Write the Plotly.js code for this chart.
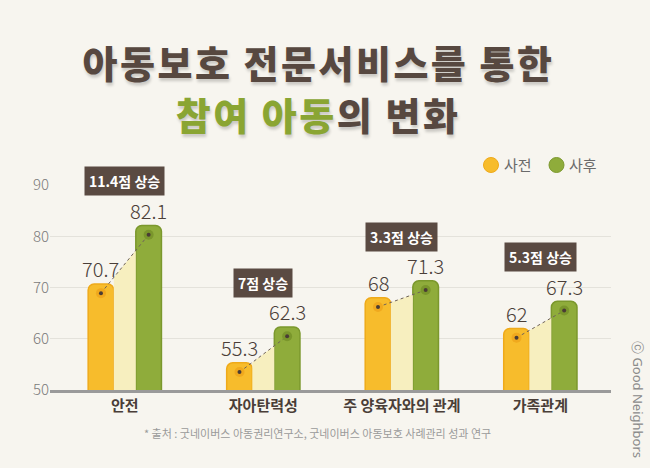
<!DOCTYPE html>
<html><head><meta charset="utf-8">
<script src="https://cdn.plot.ly/plotly-3.0.1.min.js"></script>
<style>html,body{margin:0;padding:0;background:#f7f5ef;}#chart{width:650px;height:468px;}
g.annotation[data-index="12"] text, g.annotation[data-index="13"] text {letter-spacing: 2.5px;}
</style>
</head><body><div id="chart"></div>
<script>
const categories = ['안전', '자아탄력성', '주 양육자와의 관계', '가족관계'];
const beforeValues = [70.7, 55.3, 68, 62];
const afterValues = [82.1, 62.3, 71.3, 67.3];
const increaseLabels = ['11.4점 상승', '7점 상승', '3.3점 상승', '5.3점 상승'];
const yTicks = [50, 60, 70, 80, 90];
const seriesNames = ['사전', '사후'];

const W = 650, H = 468;
const M = {l: 50, r: 39, t: 185, b: 78};
const pw = W - M.l - M.r, ph = H - M.t - M.b;
const px = x => (x - M.l) / pw;
const py = y => (H - M.b - y) / ph;

const FONT = 'Noto Sans CJK KR, Noto Sans, sans-serif';
const OFF = 0.172, BW = 0.185, DOTDROP = 1.8;
const idx = categories.map((c, i) => i);

const ORANGE = '#f7bc2c', ORANGE_LINE = '#efaa1a', ORANGE_DOT = '#f0a91e';
const GREEN = '#8fac3b', GREEN_LINE = '#7b982d', GREEN_DOT = '#7a962c';
const BROWN = '#574840';

const traces = [];
// pale fill between bars (top follows the dotted connector)
const tA = (BW / 2) / (2 * OFF), tB = 1 - tA;
idx.forEach(i => {
  const yb = beforeValues[i] - DOTDROP, ya = afterValues[i] - DOTDROP;
  traces.push({
    type: 'scatter', mode: 'none', fill: 'toself', fillcolor: '#f7efbf',
    x: [i - OFF + BW / 2, i - OFF + BW / 2, i + OFF - BW / 2, i + OFF - BW / 2],
    y: [0, yb + tA * (ya - yb), yb + tB * (ya - yb), 0],
    hoverinfo: 'skip', showlegend: false
  });
});
traces.push({
  type: 'bar', name: seriesNames[0], x: idx, y: beforeValues,
  width: BW, offset: -OFF - BW / 2,
  marker: {color: ORANGE, line: {color: ORANGE_LINE, width: 1.5}, cornerradius: 6},
  showlegend: false, hoverinfo: 'skip'
});
traces.push({
  type: 'bar', name: seriesNames[1], x: idx, y: afterValues,
  width: BW, offset: OFF - BW / 2,
  marker: {color: GREEN, line: {color: GREEN_LINE, width: 1.5}, cornerradius: 6},
  showlegend: false, hoverinfo: 'skip'
});
idx.forEach(i => {
  traces.push({
    type: 'scatter', mode: 'lines+markers',
    x: [i - OFF, i + OFF], y: [beforeValues[i] - DOTDROP, afterValues[i] - DOTDROP],
    line: {color: '#6e625a', width: 1, dash: 'dot'},
    marker: {size: 10, color: [ORANGE_DOT, GREEN_DOT], line: {width: 0}},
    hoverinfo: 'skip', showlegend: false, cliponaxis: false
  });
  traces.push({
    type: 'scatter', mode: 'markers',
    x: [i - OFF, i + OFF], y: [beforeValues[i] - DOTDROP, afterValues[i] - DOTDROP],
    marker: {size: 4, color: '#4a3c35'},
    hoverinfo: 'skip', showlegend: false, cliponaxis: false
  });
});

const annotations = [];
idx.forEach(i => {
  annotations.push({
    x: i - OFF, y: beforeValues[i], xref: 'x', yref: 'y', text: String(beforeValues[i]),
    showarrow: false, yanchor: 'middle', yshift: 15,
    font: {family: FONT, size: 20, color: '#4a3e38', weight: 300}
  });
  annotations.push({
    x: i + OFF, y: afterValues[i], xref: 'x', yref: 'y', text: String(afterValues[i]),
    showarrow: false, yanchor: 'middle', yshift: 15,
    font: {family: FONT, size: 20, color: '#4a3e38', weight: 300}
  });
  annotations.push({
    x: i, y: afterValues[i], xref: 'x', yref: 'y', text: increaseLabels[i],
    showarrow: false, yanchor: 'middle', yshift: 44,
    bgcolor: '#5a4a42', borderpad: 4,
    font: {family: FONT, size: 14, color: '#ffffff', weight: 700}
  });
});
// titles
annotations.push({
  xref: 'paper', yref: 'paper', x: px(318), y: py(62), xanchor: 'center', yanchor: 'middle',
  showarrow: false, text: '아동보호 전문서비스를 통한',
  font: {family: FONT, size: 38, color: BROWN, weight: 900, shadow: '1px 3px 3px rgba(0,0,0,0.18)'}
});
annotations.push({
  xref: 'paper', yref: 'paper', x: px(318), y: py(114), xanchor: 'center', yanchor: 'middle',
  showarrow: false, text: '<span style="color:#8aa533">참여 아동</span>의 변화',
  font: {family: FONT, size: 38, color: BROWN, weight: 900, shadow: '1px 3px 3px rgba(0,0,0,0.18)'}
});
// legend text
annotations.push({xref: 'paper', yref: 'paper', x: px(502), y: py(165), xanchor: 'left', yanchor: 'middle',
  showarrow: false, text: seriesNames[0], font: {family: FONT, size: 15, color: '#6a6a6a'}});
annotations.push({xref: 'paper', yref: 'paper', x: px(567), y: py(165), xanchor: 'left', yanchor: 'middle',
  showarrow: false, text: seriesNames[1], font: {family: FONT, size: 15, color: '#6a6a6a'}});
// source
annotations.push({xref: 'paper', yref: 'paper', x: px(317), y: py(433), xanchor: 'center', yanchor: 'middle',
  showarrow: false, text: '* 출처 : 굿네이버스 아동권리연구소, 굿네이버스 아동보호 사례관리 성과 연구',
  font: {family: FONT, size: 11, color: '#9a9a9a'}});
// copyright
annotations.push({xref: 'paper', yref: 'paper', x: px(638), y: py(399), xanchor: 'center', yanchor: 'middle',
  showarrow: false, textangle: 90, text: 'ⓒ Good Neighbors',
  font: {family: 'Noto Sans, sans-serif', size: 13, color: '#8a8a8a'}});

const shapes = [
  {type: 'circle', xref: 'paper', yref: 'paper', x0: px(483.5), x1: px(498.5), y0: py(172.5), y1: py(157.5),
    fillcolor: ORANGE, line: {color: ORANGE_LINE, width: 1}},
  {type: 'circle', xref: 'paper', yref: 'paper', x0: px(549), x1: px(564), y0: py(172.5), y1: py(157.5),
    fillcolor: GREEN, line: {color: GREEN_LINE, width: 1}}
];

const layout = {
  width: W, height: H, margin: M,
  paper_bgcolor: '#f7f5ef', plot_bgcolor: '#f7f5ef',
  barmode: 'overlay',
  xaxis: {
    type: 'linear', range: [-0.54, 3.51], tickvals: idx, ticktext: categories,
    showgrid: false, zeroline: false, showline: true, linecolor: '#9a9a9a', linewidth: 3,
    tickfont: {family: FONT, size: 15, color: '#4a3e38', weight: 700}, ticks: '', fixedrange: true
  },
  yaxis: {
    range: [50, 90], tickvals: yTicks, showgrid: true, gridcolor: '#e4e2db', gridwidth: 1,
    zeroline: false, showline: false, ticks: '',
    tickfont: {family: FONT, size: 15, color: '#7a7a7a', weight: 300}
  },
  annotations: annotations, shapes: shapes, showlegend: false
};

Plotly.newPlot('chart', traces, layout, {staticPlot: true});
</script></body></html>
